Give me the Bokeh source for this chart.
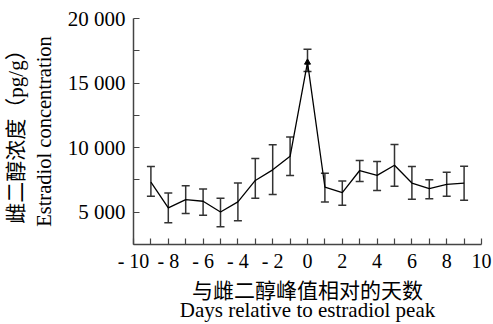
from bokeh.plotting import figure
from bokeh.models import FixedTicker, LinearAxis, Range1d, ColumnDataSource, Whisker, TeeHead
from bokeh.embed import file_html
from bokeh.resources import INLINE

days = [-9, -8, -7, -6, -5, -4, -3, -2, -1, 0, 1, 2, 3, 4, 5, 6, 7, 8, 9]
mean = [7330, 5330, 5980, 5850, 5020, 5800, 7460, 8280, 9330, 16600, 6950, 6510, 8230, 7850, 8640, 7260, 6820, 7150, 7260]
upper = [8540, 6480, 7050, 6790, 6080, 7260, 9150, 10230, 10820, 17620, 8020, 7410, 9000, 8920, 10250, 8540, 7510, 8100, 8560]
lower = [6230, 4180, 4900, 4770, 3870, 4330, 6080, 6380, 7850, 15900, 5800, 5540, 7380, 6690, 7020, 6000, 6050, 6230, 5920]

x_ticks = list(range(-10, 11))
x_labels = {t: (("- %d" % -t) if t < 0 else str(t)) if t % 2 == 0 else "" for t in x_ticks}
y_ticks = [2500, 5000, 7500, 10000, 12500, 15000, 17500, 20000]
y_labels = {t: ("{:,}".format(t).replace(",", " ") if t % 5000 == 0 else "") for t in y_ticks}

SERIF = "Liberation Serif"
CJK = "Liberation Serif, Noto Sans CJK SC"
AX = "#444444"

p = figure(width=493, height=324, output_backend="svg", toolbar_location=None,
           x_range=Range1d(-10, 10), y_range=Range1d(2500, 20000),
           x_axis_type=None, y_axis_type=None,
           min_border_left=133, min_border_right=12, min_border_top=18, min_border_bottom=80)
p.outline_line_color = None
p.grid.visible = False
p.background_fill_color = "white"
p.border_fill_color = "white"

# x axes
xa = LinearAxis(ticker=FixedTicker(ticks=x_ticks), major_label_overrides=x_labels)
xa.axis_label = "与雌二醇峰值相对的天数"
xa.axis_line_color = AX
xa.axis_line_width = 1.5
xa.major_tick_line_color = AX
xa.major_tick_line_width = 1.2
xa.major_tick_in = 6
xa.major_tick_out = 0
xa.minor_tick_line_color = None
xa.major_label_text_font = SERIF
xa.major_label_text_font_size = "20px"
xa.major_label_text_color = "black"
xa.major_label_standoff = 5
xa.axis_label_text_font = CJK
xa.axis_label_text_font_size = "21px"
xa.axis_label_text_font_style = "normal"
xa.axis_label_text_color = "black"
xa.axis_label_standoff = 4
xa2 = LinearAxis(ticker=FixedTicker(ticks=[]))
xa2.axis_label = "Days relative to estradiol peak"
xa2.axis_line_color = None
xa2.major_tick_line_color = None
xa2.minor_tick_line_color = None
xa2.major_label_text_font_size = "0px"
xa2.axis_label_text_font = SERIF
xa2.axis_label_text_font_size = "21px"
xa2.axis_label_text_font_style = "normal"
xa2.axis_label_text_color = "black"
xa2.axis_label_standoff = -8
p.add_layout(xa, "below")
p.add_layout(xa2, "below")

# y axes
ya = LinearAxis(ticker=FixedTicker(ticks=y_ticks), major_label_overrides=y_labels)
ya.axis_label = "Estradiol concentration"
ya.axis_line_color = AX
ya.axis_line_width = 1.5
ya.major_tick_line_color = AX
ya.major_tick_line_width = 1.2
ya.major_tick_in = 6
ya.major_tick_out = 0
ya.minor_tick_line_color = None
ya.major_label_text_font = SERIF
ya.major_label_text_font_size = "21px"
ya.major_label_text_color = "black"
ya.major_label_standoff = 8
ya.axis_label_text_font = SERIF
ya.axis_label_text_font_size = "20.5px"
ya.axis_label_text_font_style = "normal"
ya.axis_label_text_color = "black"
ya.axis_label_standoff = 10
ya2 = LinearAxis(ticker=FixedTicker(ticks=[]))
ya2.axis_label = "雌二醇浓度（pg/g）"
ya2.axis_line_color = None
ya2.major_tick_line_color = None
ya2.minor_tick_line_color = None
ya2.major_label_text_font_size = "0px"
ya2.axis_label_text_font = CJK
ya2.axis_label_text_font_size = "21px"
ya2.axis_label_text_font_style = "normal"
ya2.axis_label_text_color = "black"
ya2.axis_label_standoff = 2
p.add_layout(ya, "left")
p.add_layout(ya2, "left")

src = ColumnDataSource(data=dict(x=days, y=mean, up=upper, lo=lower))
p.add_layout(Whisker(source=src, base="x", upper="up", lower="lo",
                     line_color="#333333", line_width=1.5,
                     upper_head=TeeHead(size=8, line_color="#333333", line_width=1.5),
                     lower_head=TeeHead(size=8, line_color="#333333", line_width=1.5)))
p.line("x", "y", source=src, line_color="black", line_width=1.3)

peak_i = mean.index(max(mean))
p.scatter([days[peak_i]], [mean[peak_i]], marker="triangle", size=6, color="black")

open("out.html", "w").write(file_html(p, INLINE))
